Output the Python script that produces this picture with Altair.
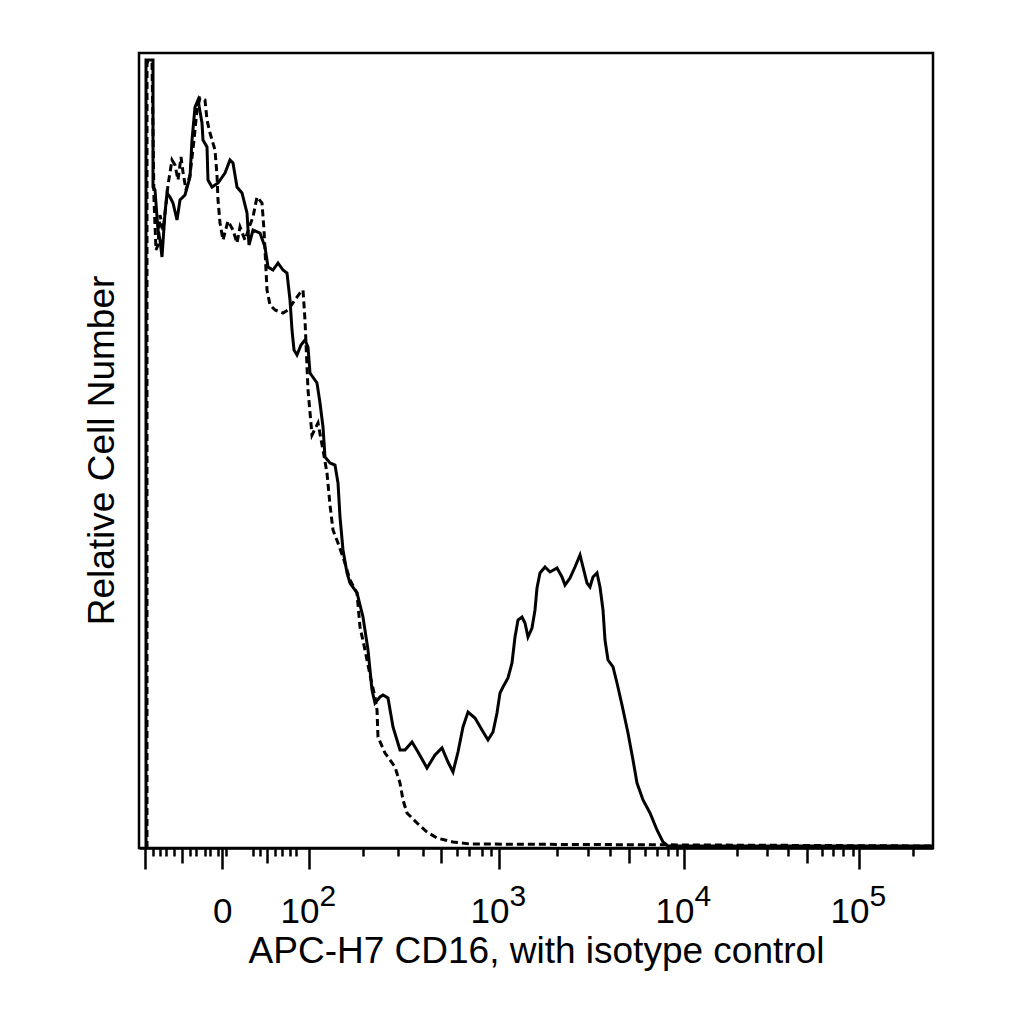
import altair as alt
import pandas as pd

# x: display channel across the plot (0-794), y: relative cell count
solid_ch = [7, 7, 14, 14, 16, 19, 21, 23, 26, 28, 31, 34, 38, 41, 46, 51, 53, 56, 59, 63,
            64, 68, 69, 73, 79, 86, 91, 94, 98, 103, 108, 110, 114, 121, 126, 129, 134, 139,
            144, 148, 151, 153, 155, 158, 162, 166, 169, 171, 178, 181, 184, 186, 191, 196,
            199, 201, 204, 208, 211, 218, 224, 229, 233, 236, 241, 244, 249, 254, 261, 266,
            273, 279, 288, 296, 303, 309, 314, 319, 324, 329, 336, 343, 349, 354, 358, 361,
            364, 369, 373, 376, 379, 383, 386, 389, 393, 396, 398, 401, 406, 411, 418, 423,
            426, 431, 436, 441, 444, 448, 451, 454, 458, 461, 464, 466, 469, 474, 478, 483,
            489, 494, 498, 504, 511, 518, 524, 529, 600, 700, 794]
solid_n = [0, 788, 788, 661, 658, 618, 608, 591, 635, 655, 651, 645, 628, 648, 653, 671, 708,
           741, 748, 725, 708, 701, 668, 661, 665, 675, 688, 685, 661, 655, 635, 603, 618, 615,
           601, 581, 578, 585, 578, 575, 548, 518, 498, 493, 503, 508, 501, 475, 465, 445, 421,
           391, 385, 383, 365, 331, 298, 275, 265, 255, 231, 198, 158, 145, 151, 153, 150, 121,
           98, 98, 106, 96, 80, 93, 100, 86, 76, 96, 121, 136, 130, 118, 108, 116, 135, 155,
           161, 170, 185, 211, 228, 231, 225, 211, 220, 238, 260, 275, 281, 276, 280, 271, 263,
           270, 281, 293, 281, 265, 261, 271, 275, 261, 238, 208, 188, 181, 165, 143, 115, 88,
           65, 48, 35, 18, 6, 2, 2, 2, 2]

dash_ch = [8, 8, 13, 15, 17, 19, 21, 24, 27, 29, 33, 36, 39, 42, 44, 47, 51, 55, 58, 61, 66,
           68, 71, 76, 78, 79, 81, 84, 89, 94, 98, 101, 106, 111, 114, 118, 123, 125, 128, 131,
           136, 144, 149, 156, 161, 164, 166, 169, 173, 179, 184, 188, 191, 194, 199, 205, 211,
           218, 221, 226, 231, 236, 238, 239, 246, 256, 261, 264, 268, 278, 288, 298, 314, 331,
           794]
dash_n = [0, 786, 786, 648, 598, 603, 633, 618, 643, 663, 688, 683, 668, 691, 676, 658, 673,
          708, 738, 750, 748, 728, 715, 698, 673, 648, 625, 608, 627, 618, 605, 621, 608, 623,
          631, 651, 645, 618, 558, 543, 538, 535, 538, 548, 555, 558, 528, 458, 413, 425, 398,
          375, 343, 318, 305, 288, 268, 255, 221, 198, 173, 151, 138, 111, 95, 81, 65, 48, 35,
          25, 16, 10, 6, 4, 2]

# axis ticks (display channel) and labels
major_ticks = [6, 83, 170, 360, 545, 720]
mid_ticks = [43, 128, 302, 490, 668]
minor_ticks = [14, 21, 27, 35, 51, 57, 66, 71, 79, 87, 114, 121, 136, 143, 151, 157,
               224, 259, 284, 318, 330, 343, 352, 418, 449, 471, 506, 518, 529, 538,
               598, 628, 649, 683, 694, 704, 714, 774]
label_ticks = [83, 170, 360, 545, 720]
label_base = ["0", "10", "10", "10", "10"]
label_exp = ["", "2", "3", "4", "5"]

FONT = "Liberation Sans"


def label_expr(ticks, texts):
    expr = "".join(f"datum.value == {v} ? '{t}' : " for v, t in zip(ticks, texts))
    return expr + "''"


solid = pd.DataFrame({"ch": solid_ch, "n": solid_n, "i": range(len(solid_ch))})
dashed = pd.DataFrame({"ch": dash_ch, "n": dash_n, "i": range(len(dash_ch))})

x_scale = alt.Scale(domain=[0, 794], nice=False, zero=False)
y_scale = alt.Scale(domain=[0, 795], nice=False)

all_ticks = sorted(major_ticks + mid_ticks + minor_ticks)

y_axis = alt.Axis(
    title="Relative Cell Number", labels=False, ticks=False, domain=False, grid=False,
    titleFont=FONT, titleFontSize=37, titleFontWeight="normal", titleColor="black",
    titleX=-26, titleY=397, titleAlign="center", titleBaseline="alphabetic", titleAngle=-90
)

main_axis = alt.Axis(
    orient="bottom", values=all_ticks, grid=False, domainColor="black", domainWidth=2.5,
    tickColor="black", tickWidth=2.5,
    tickSize={"condition": [
        {"test": f"indexof({major_ticks}, datum.value) >= 0", "value": 21},
        {"test": f"indexof({mid_ticks}, datum.value) >= 0", "value": 15},
    ], "value": 8},
    labelExpr=label_expr(label_ticks, label_base), labelFont=FONT, labelFontSize=35,
    labelColor="black", labelAlign="right", labelOffset=10, labelBaseline="alphabetic",
    labelPadding=53, labelOverlap=False, labelFlush=False, labelBound=False,
    title="APC-H7 CD16, with isotype control", titleFont=FONT, titleFontSize=37,
    titleFontWeight="normal", titleColor="black", titleX=397, titleY=114,
    titleAlign="center", titleBaseline="alphabetic"
)

exp_axis = alt.Axis(
    orient="bottom", values=label_ticks[1:], grid=False, domain=False, ticks=False,
    labelExpr=label_expr(label_ticks, label_exp), labelFont=FONT, labelFontSize=30,
    labelColor="black", labelAlign="left", labelOffset=10, labelBaseline="alphabetic",
    labelPadding=57, labelOverlap=False, labelFlush=False, labelBound=False, title=None
)

solid_line = alt.Chart(solid).mark_line(color="black", strokeWidth=3).encode(
    x=alt.X("ch:Q", scale=x_scale, axis=main_axis),
    y=alt.Y("n:Q", scale=y_scale, axis=y_axis),
    order="i:Q"
)

dashed_line = alt.Chart(dashed).mark_line(color="black", strokeWidth=3, strokeDash=[7, 4]).encode(
    x=alt.X("ch:Q", scale=x_scale, axis=exp_axis),
    y=alt.Y("n:Q", scale=y_scale, axis=y_axis),
    order="i:Q"
)

chart = alt.layer(solid_line, dashed_line).resolve_axis(x="independent").properties(
    width=794,
    height=795,
    autosize=alt.AutoSizeParams(type="none"),
    padding={"left": 131, "top": 45, "right": 60, "bottom": 150},
    background="white"
).configure_view(stroke="black", strokeWidth=2.5)

chart.save("out.html", embed_options={"renderer": "svg", "actions": False})
